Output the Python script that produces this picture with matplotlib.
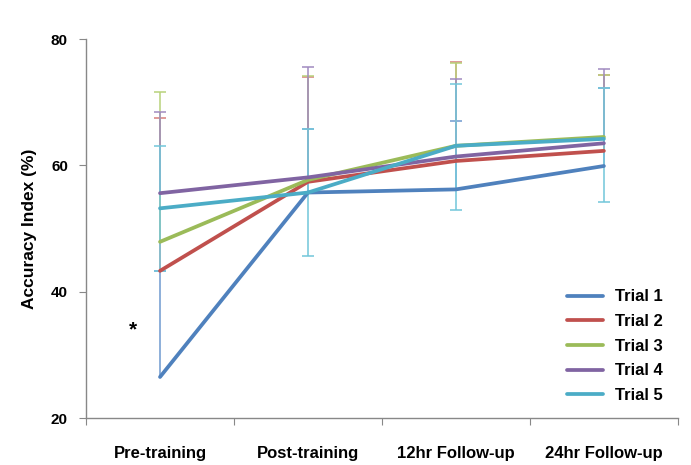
import numpy as np
import matplotlib
matplotlib.use('Agg')
import matplotlib.pyplot as plt

plt.rcParams['font.family'] = ['Liberation Sans', 'DejaVu Sans']
plt.rcParams['font.weight'] = 'bold'

# Datos
categorias = ['Pre-training', 'Post-training', '12hr Follow-up', '24hr Follow-up']
ensayos = ['Trial 1', 'Trial 2', 'Trial 3', 'Trial 4', 'Trial 5']

trial1 = [26.5, 55.7, 56.2, 59.9]
trial2 = [43.3, 57.4, 60.7, 62.3]
trial3 = [47.9, 57.7, 63.1, 64.5]
trial4 = [55.6, 58.1, 61.4, 63.5]
trial5 = [53.2, 55.7, 63.1, 64.2]

# Barras de error (solo hacia arriba, salvo el ensayo 5)
err1_sup = [16.8, 10.0, 10.8, 12.4]
err2_sup = [24.2, 16.6, 15.7, 12.0]
err3_sup = [23.7, 16.5, 13.1, 9.8]
err4_sup = [12.8, 17.4, 12.2, 11.7]
err5_sup = [9.9, 10.0, 9.8, 8.1]
err5_inf = [9.9, 10.0, 10.2, 10.0]

colores = ['#4F81BD', '#C0504D', '#9BBB59', '#8064A2', '#4BACC6']
colores_err = ['#6F9AD0', '#D77E7C', '#B8D27A', '#A08AC0', '#72C6DA']

series = [trial1, trial2, trial3, trial4, trial5]
err_sup = [err1_sup, err2_sup, err3_sup, err4_sup, err5_sup]
err_inf = [None, None, None, None, err5_inf]

fig = plt.figure(figsize=(6.91, 4.65), dpi=100)
ax = fig.add_axes([0.1245, 0.101, 0.8565, 0.815])

x = np.arange(len(categorias)) + 0.5

# Barras de error: trazo vertical y tapa en cada extremo dibujado
for vals, sup, inf, c in zip(series, err_sup, err_inf, colores_err):
    vals = np.array(vals)
    arriba = vals + np.array(sup)
    abajo = vals - np.array(inf) if inf is not None else vals
    ax.vlines(x, abajo, arriba, color=c, linewidth=1.1, zorder=2)
    ax.plot(x, arriba, linestyle='none', marker='_', markersize=8,
            markeredgewidth=1.1, color=c, zorder=2)
    if inf is not None:
        ax.plot(x, abajo, linestyle='none', marker='_', markersize=8,
                markeredgewidth=1.1, color=c, zorder=2)

for vals, c, nombre in zip(series, colores, ensayos):
    ax.plot(x, vals, color=c, linewidth=2.7, solid_capstyle='round',
            label=nombre, zorder=3)

# Marca de significancia
ax.text(0.32, 34.0, '*', fontsize=15, ha='center', va='center', color='black')

ax.set_xlim(0, 4)
ax.set_ylim(20, 80)
ax.set_yticks([20, 40, 60, 80])
ax.set_xticks(np.arange(0, 5))
ax.set_xticklabels([])
ax.set_xticks(x, minor=True)
ax.set_xticklabels(categorias, minor=True, fontsize=12, fontweight='bold')
ax.tick_params(axis='x', which='minor', length=0, pad=20)
ax.tick_params(axis='x', which='major', length=5, color='#888888', direction='out')
ax.tick_params(axis='y', length=5, color='#888888', labelsize=11, pad=8)

for s in ['top', 'right']:
    ax.spines[s].set_visible(False)
for s in ['left', 'bottom']:
    ax.spines[s].set_color('#888888')
    ax.spines[s].set_linewidth(1)

ax.set_ylabel('Accuracy Index (%)', fontsize=12.5, fontweight='bold', labelpad=10)

ax.legend(loc='lower right', bbox_to_anchor=(1.0, 0.0), frameon=False,
          fontsize=12, handlelength=2.2, labelspacing=0.58, handletextpad=0.7)

plt.savefig('out.png', dpi=100)
